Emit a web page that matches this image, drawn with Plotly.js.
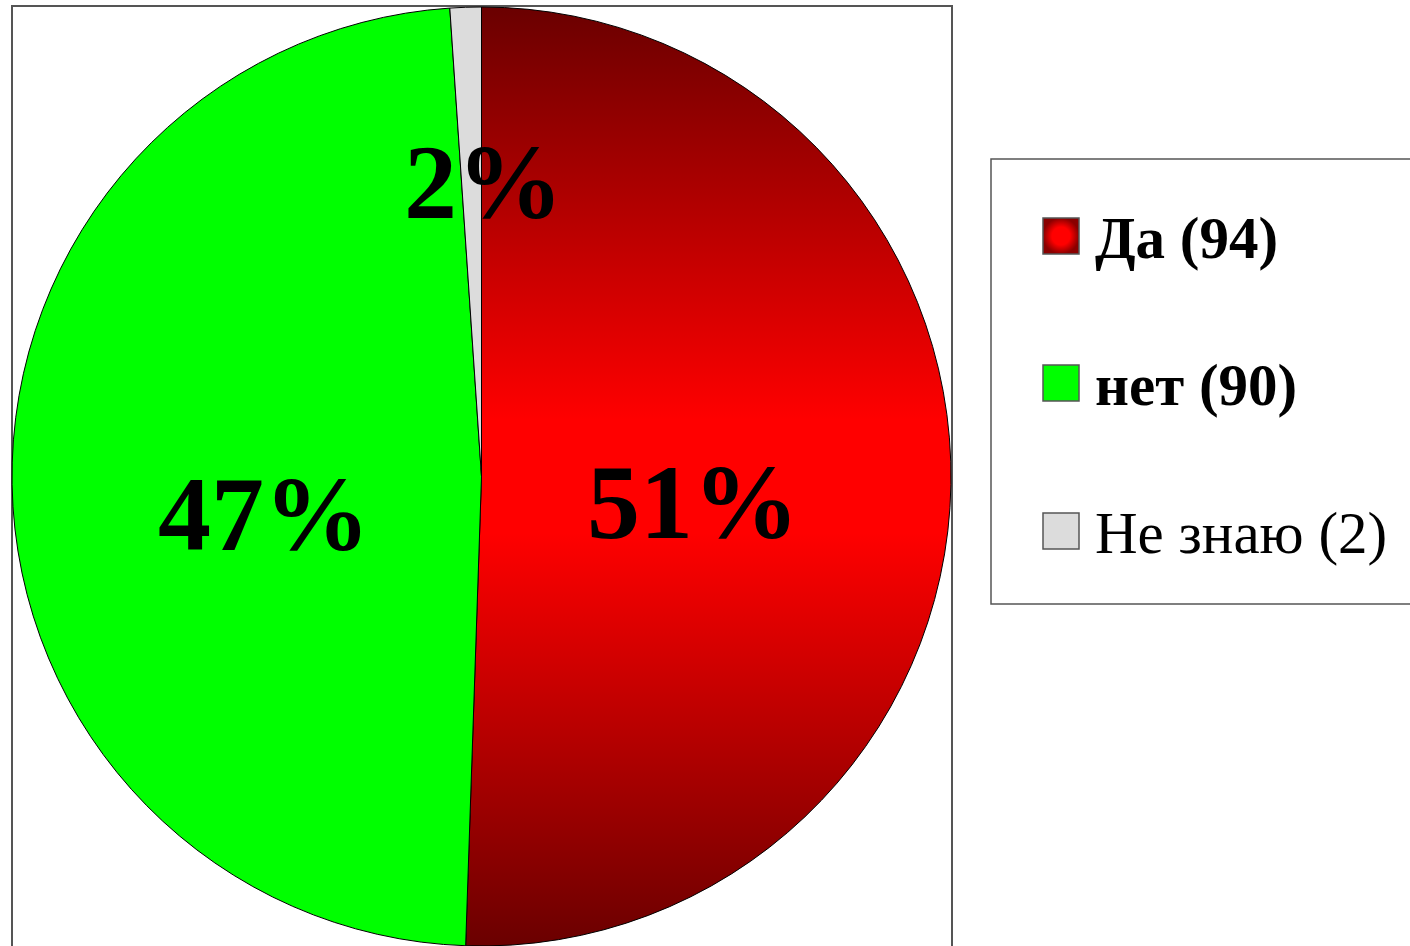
<!DOCTYPE html>
<html>
<head>
<meta charset="utf-8">
<script src="https://cdn.plot.ly/plotly-3.0.1.min.js"></script>
<style>html,body{margin:0;padding:0;background:#fff;}#chart{width:1410px;height:946px;}</style>
</head>
<body>
<div id="chart"></div>
<script>
// ---- data ----
const categories = ["Да", "нет", "Не знаю"];
const counts = [94, 90, 2];
const percentLabels = ["51%", "47%", "2%"];
const legendBold = [true, true, false];
const sliceColors = ["#ff0000", "#00ff00", "#dcdcdc"];

const W = 1410, H = 946;
const px = x => x / W;
const py = y => 1 - y / H;

const serif = "Liberation Serif, Times New Roman, serif";

const trace = {
  type: "pie",
  labels: categories,
  values: counts,
  textinfo: "none",
  sort: false,
  direction: "clockwise",
  rotation: 0,
  marker: {colors: sliceColors, line: {color: "#000", width: 1}},
  domain: {x: [px(12), px(951)], y: [0, py(7)]},
  showlegend: false,
  hoverinfo: "label+value+percent"
};

const shapes = [
  // plot frame
  {type: "rect", xref: "paper", yref: "paper", x0: px(12), x1: px(952), y0: -0.02, y1: py(6),
   line: {color: "#555", width: 2}, layer: "below"},
  // legend box
  {type: "rect", xref: "paper", yref: "paper", x0: px(991), x1: 1.05, y0: py(604), y1: py(159),
   line: {color: "#555", width: 1.5}, layer: "above"}
];
// percent label anchor positions (pixels)
const labelPos = [[693, 502], [264, 514], [483, 183]];
const annotations = percentLabels.map((t, i) => ({
  xref: "paper", yref: "paper", x: px(labelPos[i][0]), y: py(labelPos[i][1]),
  text: "<b>" + t + "</b>", showarrow: false,
  font: {family: serif, size: 106, color: "#000"}, xanchor: "center", yanchor: "middle"
}));
const rowY = [236, 383, 531];
categories.forEach((c, i) => {
  shapes.push({type: "rect", xref: "paper", yref: "paper",
    x0: px(1043), x1: px(1079), y0: py(rowY[i] + 18), y1: py(rowY[i] - 18),
    fillcolor: sliceColors[i], line: {color: "#555", width: 1.5}, layer: "above"});
  const lbl = c + " (" + counts[i] + ")";
  annotations.push({xref: "paper", yref: "paper", x: px(1093), y: py(rowY[i] + 2),
    text: legendBold[i] ? "<b>" + lbl + "</b>" : lbl, showarrow: false,
    xanchor: "left", yanchor: "middle", font: {family: serif, size: 59, color: "#000"}});
});

const layout = {
  width: W, height: H,
  margin: {l: 0, r: 0, t: 0, b: 0},
  paper_bgcolor: "#fff",
  showlegend: false,
  shapes: shapes,
  annotations: annotations
};

Plotly.newPlot("chart", [trace], layout, {displayModeBar: false, staticPlot: true}).then(gd => {
  const svg = gd.querySelector("svg.main-svg");
  const ns = "http://www.w3.org/2000/svg";
  let defs = svg.querySelector("defs");
  if (!defs) { defs = document.createElementNS(ns, "defs"); svg.insertBefore(defs, svg.firstChild); }
  const grad = document.createElementNS(ns, "linearGradient");
  grad.setAttribute("id", "daGrad");
  grad.setAttribute("x1", "0"); grad.setAttribute("y1", "0");
  grad.setAttribute("x2", "0"); grad.setAttribute("y2", "1");
  [[0, "#6a0000"], [0.44, "#ff0000"], [0.56, "#ff0000"], [1, "#6a0000"]].forEach(([o, c]) => {
    const s = document.createElementNS(ns, "stop");
    s.setAttribute("offset", o); s.setAttribute("stop-color", c);
    grad.appendChild(s);
  });
  defs.appendChild(grad);
  const rg = document.createElementNS(ns, "radialGradient");
  rg.setAttribute("id", "daSwatch");
  [[0, "#ff0000"], [0.5, "#ff0000"], [1, "#8a0000"]].forEach(([o, c]) => {
    const s = document.createElementNS(ns, "stop");
    s.setAttribute("offset", o); s.setAttribute("stop-color", c);
    rg.appendChild(s);
  });
  defs.appendChild(rg);
  const slices = gd.querySelectorAll("g.slice path.surface");
  if (slices.length) slices[0].style.fill = "url(#daGrad)";
  gd.querySelectorAll(".shapelayer path").forEach(p => {
    if (p.style.fill === "rgb(255, 0, 0)") p.style.fill = "url(#daSwatch)";
  });
});
</script>
</body>
</html>
